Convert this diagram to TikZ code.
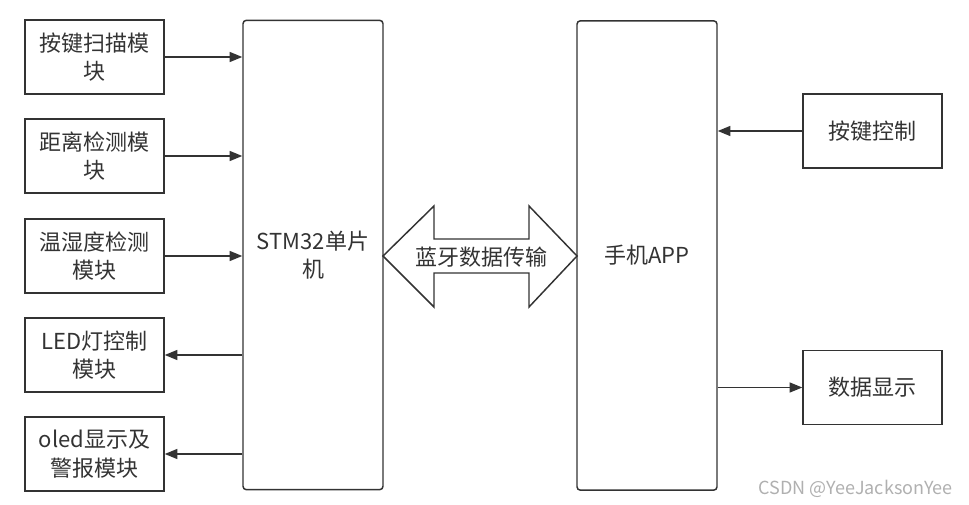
\documentclass[tikz,border=0pt]{standalone}
\usepackage{fontspec}
\setmainfont{Noto Sans CJK SC}
\usetikzlibrary{arrows.meta}
\definecolor{ln}{HTML}{333333}
\definecolor{wm}{HTML}{B0B0B0}
\tikzset{
  box/.style={draw=ln, line width=1.1pt, rectangle, align=center, text=ln,
    minimum width=104.25pt, minimum height=55.5pt, inner sep=0pt,
    font=\fontsize{16.5}{21.5}\selectfont},
  bigbox/.style={box, rounded corners=2.5pt, minimum width=105pt, minimum height=352pt},
  arr/.style={draw=ln, line width=1.1pt, -{Triangle[length=9.5pt,width=7.5pt]}},
}
\begin{document}
\begin{tikzpicture}[x=0.75pt,y=-0.75pt]
\useasboundingbox (0,0) rectangle (969,505);
\fill[white] (0,0) rectangle (969,505);
% left column
\node[box] (b1) at (94.5,57) {按键扫描模\\块};
\node[box] (b2) at (94.5,156) {距离检测模\\块};
\node[box] (b3) at (94.5,256) {温湿度检测\\模块};
\node[box] (b4) at (94.5,355) {LED灯控制\\模块};
\node[box] (b5) at (94.5,454) {oled显示及\\警报模块};
% main boxes
\node[bigbox] (stm) at (313,255) {STM32单片\\机};
\node[bigbox] (app) at (647,255.5) {手机APP};
% right column
\node[box] (key) at (872.5,131) {按键控制};
\node[box] (disp) at (872.5,387.5) {数据显示};
% arrows
\draw[arr] (b1.east) -- (b1.east -| stm.west);
\draw[arr] (b2.east) -- (b2.east -| stm.west);
\draw[arr] (b3.east) -- (b3.east -| stm.west);
\draw[arr] (b4.east -| stm.west) -- (b4.east);
\draw[arr] (b5.east -| stm.west) -- (b5.east);
\draw[arr] (key.west) -- (key.west -| app.east);
\draw[arr] (disp.west -| app.east) -- (disp.west);
% double arrow (bluetooth)
\draw[draw=ln, line width=1.1pt, fill=white, line join=miter]
  (383,256) -- (434,206) -- (434,239) -- (529,239) -- (529,206) -- (577,256)
  -- (529,307) -- (529,273) -- (434,273) -- (434,307) -- cycle;
\node[text=ln, font=\fontsize{16.5}{21.5}\selectfont] (bt) at (481,257) {蓝牙数据传输};
% watermark
\node[anchor=east, text=wm, font=\fontsize{13.5}{16}\selectfont, inner sep=0pt] (wmk) at (953,489) {CSDN @YeeJacksonYee};
\end{tikzpicture}
\end{document}
